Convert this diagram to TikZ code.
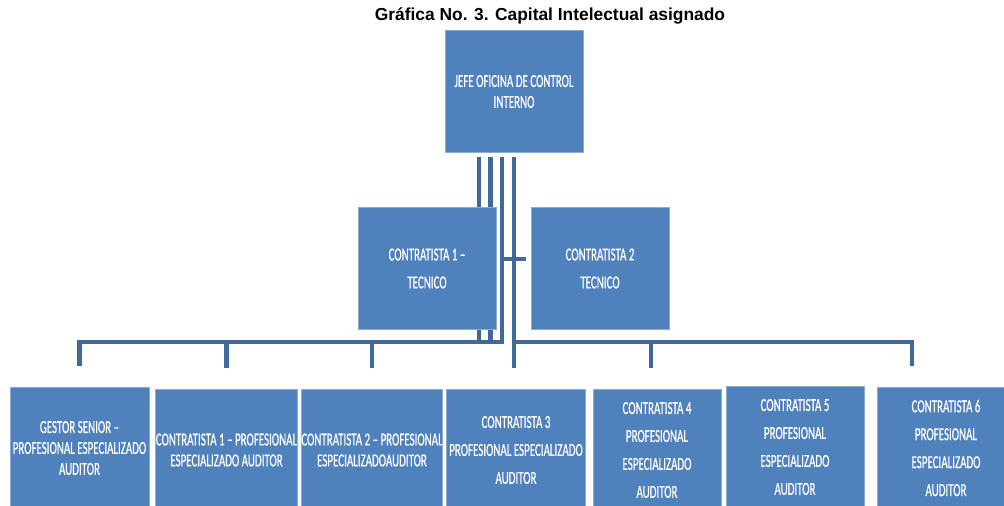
\documentclass[tikz,border=0pt]{standalone}
\usepackage{fontspec}
\usepackage{tikz}
\usetikzlibrary{calc,backgrounds}
\newfontfamily\boxfont[FakeStretch=0.6, FakeBold=0.6]{Carlito}
\newfontfamily\titlefont{Liberation Sans}
\definecolor{ocBlue}{RGB}{79,129,189}
\definecolor{ocLine}{RGB}{64,104,152}
\definecolor{ocEdge}{RGB}{140,172,212}

\begin{document}
\begin{tikzpicture}[x=0.02cm, y=-0.02cm]%
  \tikzset{box/.style={rectangle, fill=ocBlue, draw=ocEdge, line width=0.4pt, text=white, align=center,
      minimum width=2.76cm, minimum height=2.44cm, inner sep=0pt, font=\boxfont\fontsize{10.4}{11.9}\selectfont},
    tall box/.style={box, font=\boxfont\fontsize{10.4}{15.9}\selectfont},
    conn/.style={draw=ocLine, line width=2.3pt, shorten <=2.3pt, shorten >=12pt}}
  \path[use as bounding box, clip] (0,0) rectangle (1004,505);

  \node[font=\titlefont\bfseries\fontsize{9.9}{12}\selectfont, inner sep=0pt] at (550,16) (title) {Gráfica No. 3. Capital Intelectual asignado};

  \node[box] at (514,91.5) (JOCI) {JEFE OFICINA DE CONTROL\\INTERNO};
  \node[tall box] at (427,268.5) (CT1) {CONTRATISTA 1 –\\TECNICO};
  \node[tall box] at (600,268.5) (CT2) {CONTRATISTA 2\\TECNICO};

  \node[box, minimum width=2.78cm] at (79.5,448) (GS) {GESTOR SENIOR –\\PROFESIONAL ESPECIALIZADO\\AUDITOR};
  \node[box] at (226.5,450) (CP1) {CONTRATISTA 1 – PROFESIONAL\\ESPECIALIZADO AUDITOR};
  \node[box] at (372,450) (CP2) {CONTRATISTA 2 – PROFESIONAL\\ESPECIALIZADOAUDITOR};
  \node[tall box, minimum width=2.78cm] at (516,450) (CP3) {CONTRATISTA 3\\PROFESIONAL ESPECIALIZADO\\AUDITOR};
  \node[tall box, minimum width=2.56cm] at (657,450) (CP4) {CONTRATISTA 4\\PROFESIONAL\\ESPECIALIZADO\\AUDITOR};
  \node[tall box] at (795,447) (CP5) {CONTRATISTA 5\\PROFESIONAL\\ESPECIALIZADO\\AUDITOR};
  \node[tall box] at (946,448) (CP6) {CONTRATISTA 6\\PROFESIONAL\\ESPECIALIZADO\\AUDITOR};

  \begin{pgfonlayer}{background}
    % left bus (passes behind CT1)
    \path[conn] ($(JOCI.south)+(-35,0)$) -- ($(JOCI.south)+(-35,189)$) -| (GS.north);
    \path[conn] ($(JOCI.south)+(-23.5,0)$) -- ($(JOCI.south)+(-23.5,189)$) -| (CP1.north);
    \path[conn] ($(JOCI.south)+(-12,0)$) -- ($(JOCI.south)+(-12,189)$) -| (CP2.north);
    \path[conn, shorten >=2.8pt] ($(JOCI.south)+(-12,0)$) |- ($(CT2.west)+(0,-9.5)$);
    % right bus
    \path[conn] (JOCI.south) -- (JOCI.south |- CP3.north);
    \path[conn, shorten <=0pt] ($(JOCI.south)+(0,189)$) -| ($(CP4.north)+(-6,0)$);
    \path[conn, shorten <=0pt] ($(JOCI.south)+(0,189)$) -| ($(CP6.north)+(-34,0)$);
  \end{pgfonlayer}
\end{tikzpicture}
\end{document}
